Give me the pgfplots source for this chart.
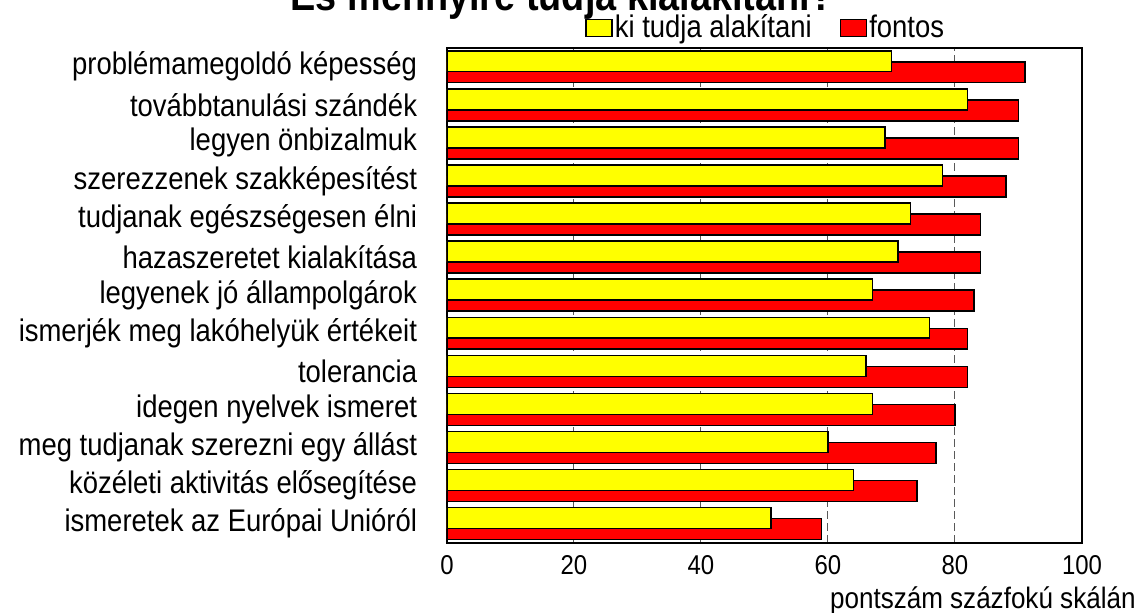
\documentclass[border=0pt]{standalone}
\usepackage{pgfplots}
\pgfplotsset{compat=1.18}
\usepackage{fontspec}
\setmainfont{Liberation Sans}[FakeStretch=0.88]
\definecolor{ybar}{RGB}{255,255,0}
\definecolor{rbar}{RGB}{255,0,0}
\begin{document}
\begin{tikzpicture}
\begin{axis}[
  at={(0,0)}, anchor=south west,
  scale only axis,
  width=317.5pt, height=247.5pt,
  xbar,
  xmin=0, xmax=100,
  ymin=-0.5, ymax=12.5,
  bar width=10.46pt,
  xtick={0,20,40,60,80,100},
  ytick={0,...,12},
  yticklabels={
    {ismeretek az Európai Unióról\hspace{4pt}},
    {közéleti aktivitás elősegítése\hspace{4pt}},
    {meg tudjanak szerezni egy állást\hspace{5pt}},
    {idegen nyelvek ismeret\hspace{2.5pt}},
    {tolerancia},
    {ismerjék meg lakóhelyük értékeit\hspace{5pt}},
    {legyenek jó állampolgárok\hspace{3.5pt}},
    {hazaszeretet kialakítása\hspace{3pt}},
    {tudjanak egészségesen élni\hspace{4pt}},
    {szerezzenek szakképesítést\hspace{4pt}},
    {legyen önbizalmuk\hspace{1pt}},
    {továbbtanulási szándék\hspace{11pt}},
    {problémamegoldó képesség\hspace{4pt}}},
  y tick style={draw=none},
  x tick style={draw=none},
  /pgf/number format/assume math mode=true,
  xticklabel style={font=\fontsize{13.6}{15}\selectfont, yshift=-3pt},
  yticklabel style={font=\fontsize{15.6}{18}\selectfont, inner sep=0pt, xshift=-10.5pt},
  xmajorgrids,
  grid style={dash pattern=on 4pt off 2pt, line width=0.5pt, black!65},
  axis line style={line width=0.85pt},
  xlabel={pontszám százfokú skálán},
  xlabel style={font=\fontsize{14.8}{17}\selectfont, anchor=base east, inner sep=0pt, at={(axis description cs:1.085,-0.1333)}},
  legend columns=2,
  reverse legend,
  legend style={draw=none, fill=none, inner sep=0pt, anchor=west,
    at={(axis description cs:0.2173,1.040)},
    font=\fontsize{15.6}{18}\selectfont,
    /tikz/every even column/.style={column sep=13pt},
    nodes={inner sep=1pt}},
  legend image code/.code={\draw[#1, line width=0.75pt] (0pt,-4.25pt) rectangle (13pt,4.25pt);},
]
\addplot[fill=rbar, draw=black, line width=0.75pt, bar shift=-2.75pt] coordinates {
  (59,0) (74,1) (77,2) (80,3) (82,4) (82,5) (83,6) (84,7) (84,8) (88,9) (90,10) (90,11) (91,12)};
\addlegendentry{fontos}
\addplot[fill=ybar, draw=black, line width=0.75pt, bar shift=2.75pt] coordinates {
  (51,0) (64,1) (60,2) (67,3) (66,4) (76,5) (67,6) (71,7) (73,8) (78,9) (69,10) (82,11) (70,12)};
\addlegendentry{ki tudja alakítani}
\end{axis}
\node[anchor=base, font=\bfseries\fontsize{21.5}{24}\selectfont, inner sep=0pt] at (57.5pt,266.3pt) {És mennyire tudja kialakítani?};
\pgfresetboundingbox
\path[use as bounding box] (-223.5pt,-35pt) rectangle (347.5pt,271.35pt);
\end{tikzpicture}
\end{document}
